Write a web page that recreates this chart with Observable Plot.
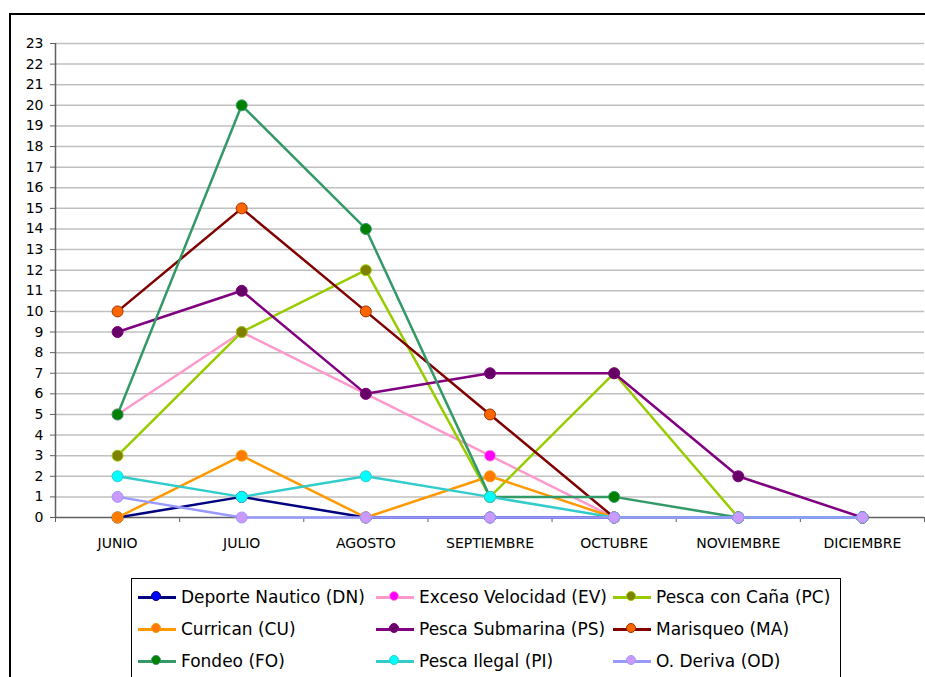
<!DOCTYPE html>
<html><head><meta charset="utf-8">
<script src="https://cdn.jsdelivr.net/npm/d3@7"></script>
<script src="https://cdn.jsdelivr.net/npm/@observablehq/plot@0.6"></script>
<style>
body{margin:0;background:#fff;font-family:"DejaVu Sans",sans-serif;}
#page{position:relative;width:925px;height:677px;overflow:hidden;background:#fff;}
#frame{position:absolute;left:9px;top:13px;width:1000px;height:1000px;border:2px solid #000;box-sizing:border-box;}
#chart{position:absolute;left:0;top:0;}
#legend{position:absolute;left:131px;top:578px;width:710px;height:200px;border:1.5px solid #000;box-sizing:border-box;background:#fff;}
.item{position:absolute;display:flex;align-items:center;height:20px;font-size:17px;white-space:nowrap;color:#000;}
.sym{position:relative;width:38px;height:12px;margin-right:5px;flex:none;}
.sym .ln{position:absolute;left:0;right:0;top:5px;height:2.5px;}
.sym .dt{position:absolute;left:13px;top:0px;width:10px;height:10px;border-radius:50%;box-sizing:border-box;border:1px solid;}
</style></head>
<body><div id="page"><div id="chart"></div><div id="frame"></div><div id="legend"></div></div>
<script>
const months = ["JUNIO","JULIO","AGOSTO","SEPTIEMBRE","OCTUBRE","NOVIEMBRE","DICIEMBRE"];
const seriesNames = ["Deporte Nautico (DN)","Exceso Velocidad (EV)","Pesca con Caña (PC)","Currican (CU)","Pesca Submarina (PS)","Marisqueo (MA)","Fondeo (FO)","Pesca Ilegal (PI)","O. Deriva (OD)"];
const dn = [0,1,0,0,0,0,0];
const ev = [5,9,6,3,0,0,0];
const pc = [3,9,12,1,7,0,0];
const cu = [0,3,0,2,0,0,0];
const ps = [9,11,6,7,7,2,0];
const ma = [10,15,10,5,0,0,0];
const fo = [5,20,14,1,1,0,0];
const pi = [2,1,2,1,0,0,0];
const od = [1,0,0,0,0,0,0];
const yTicks = d3.range(0,24);

const seriesValues = [dn,ev,pc,cu,ps,ma,fo,pi,od];
const lineColors  = ["#000080","#FF99CC","#99CC00","#FF9900","#800080","#800000","#339966","#33CCCC","#9999FF"];
const markFill    = ["#0000FF","#FF00FF","#808000","#FF7A00","#660066","#FF6600","#008000","#00FFFF","#CC99FF"];
const markStroke  = ["#000080","#FF99CC","#99CC00","#FF9900","#800080","#993300","#339966","#33CCCC","#9999FF"];

const series = seriesNames.map((name,k) => ({
  name,
  data: seriesValues[k].map((v,i) => ({month: months[i], pos: i + 0.5, value: v}))
}));

const marks = [
  Plot.gridY(yTicks.filter(d => d > 0), {stroke:"#c0c0c0", strokeOpacity:1, strokeWidth:1.5}),
  Plot.axisY(yTicks, {tickSize:5, tickPadding:7, fontSize:14, label:null, stroke:"#606060"}),
  Plot.axisX(d3.range(0,8), {tickSize:5, tickFormat:() => "", label:null, stroke:"#606060"}),
  Plot.axisX(months.map((d,i) => i + 0.5), {tickSize:0, tickPadding:21, fontSize:14, tickFormat: d => months[Math.round(d - 0.5)], label:null}),
  Plot.ruleX([0], {stroke:"#606060", strokeWidth:1.5}),
  Plot.ruleY([0], {stroke:"#606060", strokeWidth:1.5})
];
series.forEach((s,k) => {
  marks.push(Plot.line(s.data, {x:"pos", y:"value", stroke: lineColors[k], strokeWidth:2.5}));
  marks.push(Plot.dot(s.data, {x:"pos", y:"value", r:5.5, fill: markFill[k], stroke: markStroke[k], strokeWidth:1}));
});

const chart = Plot.plot({
  width: 925,
  height: 560,
  marginLeft: 55,
  marginRight: 1,
  marginTop: 43,
  marginBottom: 43,
  style: {background:"transparent", fontFamily:"'DejaVu Sans', sans-serif", color:"#000"},
  x: {type:"linear", domain:[0,7]},
  y: {domain:[0,23]},
  marks
});
document.getElementById("chart").appendChild(chart);

const legend = document.getElementById("legend");
const colX = [6, 244, 481];
const rowY = [8, 40, 72];
seriesNames.forEach((name,k) => {
  const item = document.createElement("div");
  item.className = "item";
  item.style.left = colX[k % 3] + "px";
  item.style.top = rowY[Math.floor(k / 3)] + "px";
  const sym = document.createElement("span");
  sym.className = "sym";
  const ln = document.createElement("span");
  ln.className = "ln"; ln.style.background = lineColors[k];
  const dt = document.createElement("span");
  dt.className = "dt"; dt.style.background = markFill[k]; dt.style.borderColor = markStroke[k];
  sym.appendChild(ln); sym.appendChild(dt);
  const tx = document.createElement("span");
  tx.textContent = name;
  item.appendChild(sym); item.appendChild(tx);
  legend.appendChild(item);
});
</script>
</body></html>
